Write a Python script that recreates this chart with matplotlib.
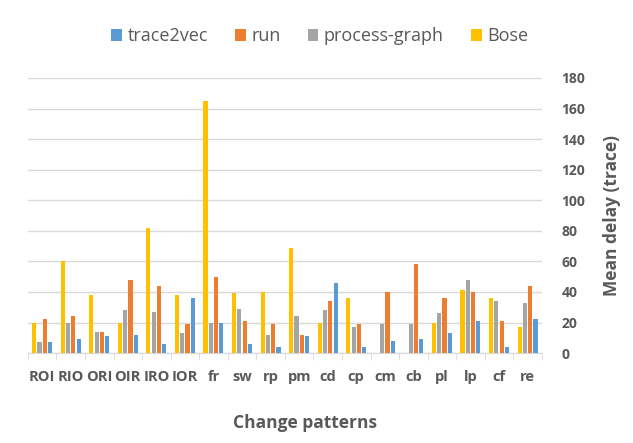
import matplotlib
matplotlib.use("Agg")
import matplotlib.pyplot as plt
import numpy as np

plt.rcParams["font.family"] = ["Open Sans", "DejaVu Sans"]

categories = ["ROI", "RIO", "ORI", "OIR", "IRO", "IOR", "fr", "sw", "rp", "pm",
              "cd", "cp", "cm", "cb", "pl", "lp", "cf", "re"]
bose = [20, 60, 38, 20, 82, 38, 165, 39, 40, 69, 20, 36, 0, 0, 20, 41, 36, 17]
process_graph = [7, 20, 14, 28, 27, 13, 20, 29, 12, 24, 28, 17, 19, 19, 26, 48, 34, 33]
run = [22, 24, 14, 48, 44, 19, 50, 21, 19, 12, 34, 19, 40, 58, 36, 40, 21, 44]
trace2vec = [7, 9, 11, 12, 6, 36, 20, 6, 4, 11, 46, 4, 8, 9, 13, 21, 4, 22]

text_color = "#595959"
colors = {"trace2vec": "#5B9BD5", "run": "#ED7D31",
          "process-graph": "#A5A5A5", "Bose": "#FFC000"}

fig = plt.figure(figsize=(6.33, 4.43), dpi=100)
ax = fig.add_axes([0.044, 0.203, 0.812, 0.621])

x = np.arange(len(categories))
w = 0.145
step = 0.186
series = [("Bose", bose), ("process-graph", process_graph),
          ("run", run), ("trace2vec", trace2vec)]
for i, (name, vals) in enumerate(series):
    ax.bar(x + (i - 1.5) * step, vals, width=w, color=colors[name],
           label=name, zorder=3)

ax.set_xlim(-0.5, len(categories) - 0.5)
ax.set_ylim(0, 180)
ax.set_yticks(np.arange(0, 181, 20))
ax.yaxis.tick_right()
ax.yaxis.set_label_position("right")
ax.grid(axis="y", color="#D9D9D9", linewidth=1, zorder=0)

ax.set_xticks(x)
ax.set_xticklabels(categories)
ax.set_xticks(np.arange(-0.5, len(categories), 1), minor=True)
ax.tick_params(axis="x", which="major", length=0, pad=12,
               labelsize=10.5, labelcolor=text_color)
ax.tick_params(axis="x", which="minor", length=5, color="#D9D9D9")
ax.tick_params(axis="y", length=0, pad=14, labelsize=10, labelcolor=text_color)
for lab in ax.get_xticklabels() + ax.get_yticklabels():
    lab.set_fontweight("bold")

for s in ["top", "left", "right"]:
    ax.spines[s].set_visible(False)
ax.spines["bottom"].set_color("#D9D9D9")

ax.set_xlabel("Change patterns", fontsize=12.5, fontweight="bold",
              color=text_color)
ax.xaxis.set_label_coords(0.54, -0.22)
ax.set_ylabel("Mean delay (trace)", fontsize=12.5, fontweight="bold",
              color=text_color, labelpad=13)

handles, labels = ax.get_legend_handles_labels()
order = [3, 2, 1, 0]
fig.legend([handles[i] for i in order], [labels[i] for i in order],
           loc="upper center", bbox_to_anchor=(0.505, 0.975), ncol=4,
           frameon=False, fontsize=13, handlelength=0.6, handleheight=0.6,
           handletextpad=0.3, columnspacing=1.5, labelcolor=text_color)

fig.savefig("out.png", dpi=100)
